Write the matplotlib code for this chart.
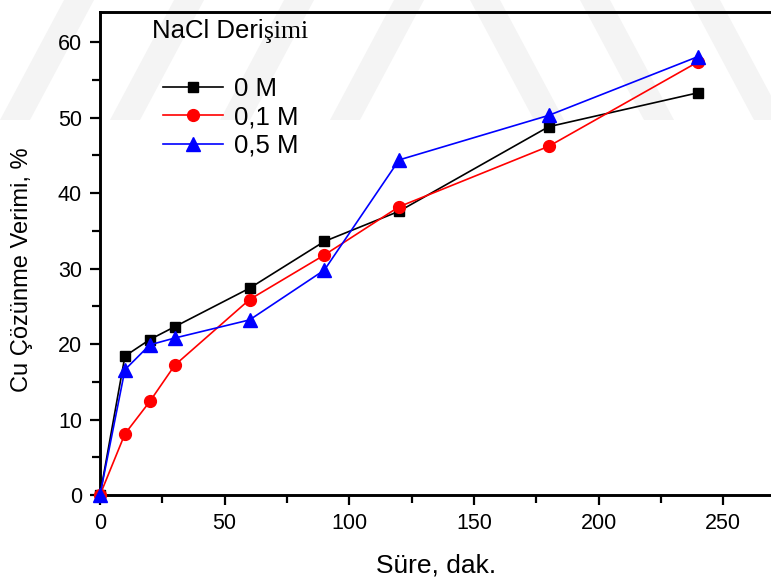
import numpy as np
import matplotlib.pyplot as plt
import matplotlib as mpl
from matplotlib.patches import Polygon
from matplotlib.ticker import MultipleLocator

mpl.rcParams["font.family"] = ["Liberation Sans", "DejaVu Sans"]

time_min = [0, 10, 20, 30, 60, 90, 120, 180, 240]
yield_0M = [0, 18.4, 20.6, 22.3, 27.4, 33.6, 37.6, 48.8, 53.3]
yield_01M = [0, 8.1, 12.4, 17.2, 25.9, 31.8, 38.2, 46.2, 57.4]
yield_05M = [0, 16.6, 19.9, 20.8, 23.2, 29.8, 44.4, 50.3, 58.1]
labels = ["0 M", "0,1 M", "0,5 M"]

W, H = 771, 582
fig = plt.figure(figsize=(W / 100, H / 100), dpi=100)

# faint watermark stripes in a background layer
bg = fig.add_axes([0, 0, 1, 1], zorder=-1)
bg.set_xlim(0, W)
bg.set_ylim(H, 0)
bg.axis("off")
for x0 in [0, 110, 220, 330]:
    bg.add_patch(Polygon([(x0, 120), (x0 + 30, 120), (x0 + 94, 0), (x0 + 64, 0)],
                         facecolor="#f4f4f4", edgecolor="none"))
for x0 in [470, 580, 690]:
    bg.add_patch(Polygon([(x0, 0), (x0 + 30, 0), (x0 + 94, 120), (x0 + 64, 120)],
                         facecolor="#f4f4f4", edgecolor="none"))

ax = fig.add_axes([100 / W, 1 - 495 / H, 673 / W, (495 - 12) / H])
ax.patch.set_alpha(0)

ax.plot(time_min, yield_0M, color="black", marker="s", ms=7.5, lw=1.2,
        label=labels[0], clip_on=False, zorder=3)
ax.plot(time_min, yield_01M, color="red", marker="o", ms=8.5, lw=1.2,
        label=labels[1], clip_on=False, zorder=3)
ax.plot(time_min, yield_05M, color="blue", marker="^", ms=9.5, lw=1.2,
        label=labels[2], clip_on=False, zorder=3)

ax.set_xlim(0, 270)
ax.set_ylim(0, 64)
ax.xaxis.set_major_locator(MultipleLocator(50))
ax.xaxis.set_minor_locator(MultipleLocator(25))
ax.yaxis.set_major_locator(MultipleLocator(10))
ax.yaxis.set_minor_locator(MultipleLocator(5))
ax.tick_params(which="both", direction="out", width=1.6, length=7, labelsize=15.5, pad=6)
ax.tick_params(which="minor", length=5.5)
for s in ax.spines.values():
    s.set_linewidth(2.1)

ax.set_xlabel("Süre, dak.", fontsize=19, labelpad=14)
ax.set_ylabel("Cu Çözünme Verimi, %", fontsize=17)
ax.yaxis.set_label_coords((22 - 100) / 673, (495 - 270) / 483)
ax.yaxis.label.set_va("center")

title = ax.text((152 - 100) / 673, (495 - 38) / 483, "NaCl Deri",
                transform=ax.transAxes, fontsize=18.5, va="baseline", ha="left")
ax.annotate("şimi", xy=(1, 0), xycoords=title, va="bottom", ha="left",
            fontsize=18.5, family="Liberation Serif")

leg = ax.legend(loc="upper left", bbox_to_anchor=((163 - 100) / 673, (495 - 77) / 483),
                frameon=False, fontsize=18.5, handlelength=2.35, handletextpad=0.4,
                labelspacing=0.17, borderaxespad=0, borderpad=0)

fig.savefig("out.png", dpi=100)
